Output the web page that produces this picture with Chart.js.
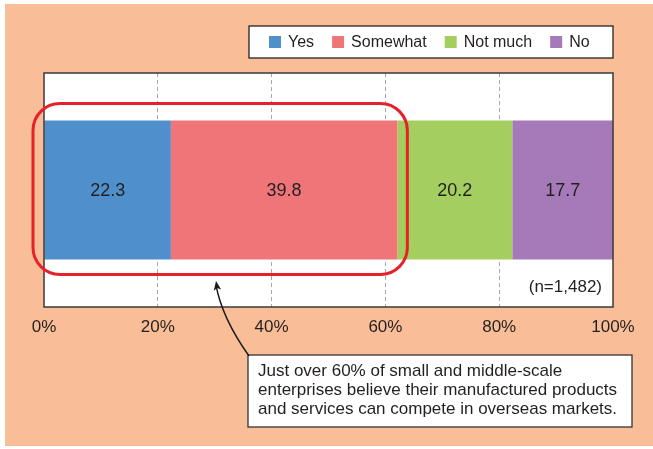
<!DOCTYPE html>
<html>
<head>
<meta charset="utf-8">
<style>
  html, body { margin: 0; padding: 0; background: #fff; }
  #wrap { width: 653px; height: 449px; }
</style>
<script src="https://cdn.jsdelivr.net/npm/chart.js@4/dist/chart.umd.min.js"></script>
</head>
<body>
<div id="wrap"><canvas id="chart" width="653" height="449"></canvas></div>
<script>
(function () {
  "use strict";

  var categories = ["Yes", "Somewhat", "Not much", "No"];
  var shares = [22.3, 39.8, 20.2, 17.7];
  var colors = ["#4F8FCB", "#F07579", "#A4CE5F", "#A67AB8"];
  var tickValues = [0, 20, 40, 60, 80, 100];
  var sampleNote = "(n=1,482)";
  var calloutLines = [
    "Just over 60% of small and middle-scale",
    "enterprises believe their manufactured products",
    "and services can compete in overseas markets."
  ];

  var FONT = "'Liberation Sans', Arial, Helvetica, sans-serif";
  var PEACH = "#F9BE97";
  var INK = "#231F20";

  // one dataset per answer so the bar stacks left to right
  var datasets = categories.map(function (name, i) {
    return {
      label: name,
      data: [shares[i]],
      backgroundColor: colors[i],
      borderWidth: 0,
      barPercentage: 0.594,
      categoryPercentage: 1
    };
  });

  var backdrop = {
    id: "backdrop",
    beforeDraw: function (chart) {
      var ctx = chart.ctx, a = chart.chartArea;
      ctx.save();
      ctx.fillStyle = "#ffffff";
      ctx.fillRect(0, 0, chart.width, chart.height);
      ctx.fillStyle = PEACH;
      ctx.fillRect(5, 4, chart.width - 5, chart.height - 7);
      ctx.fillStyle = "#ffffff";
      ctx.fillRect(a.left, a.top, a.right - a.left, a.bottom - a.top);
      ctx.restore();
    }
  };

  var extras = {
    id: "extras",
    afterDatasetsDraw: function (chart) {
      var ctx = chart.ctx, a = chart.chartArea;
      var xs = chart.scales.x;
      ctx.save();

      // frame round the plot
      ctx.strokeStyle = "#3a3a3a";
      ctx.lineWidth = 1.5;
      ctx.strokeRect(a.left, a.top, a.right - a.left, a.bottom - a.top);

      // value labels centred in each segment
      ctx.fillStyle = INK;
      ctx.font = "18px " + FONT;
      ctx.textAlign = "center";
      ctx.textBaseline = "middle";
      chart.data.datasets.forEach(function (ds, i) {
        var bar = chart.getDatasetMeta(i).data[0];
        ctx.fillText(ds.data[0].toFixed(1), (bar.x + bar.base) / 2, bar.y + 1);
      });

      // sample size note
      ctx.font = "17px " + FONT;
      ctx.textAlign = "right";
      ctx.fillText(sampleNote, a.right - 11, a.bottom - 20);

      // rounded outline around Yes + Somewhat
      var bar0 = chart.getDatasetMeta(0).data[0];
      var top3 = bar0.y - bar0.height / 2;
      var bot3 = bar0.y + bar0.height / 2;
      var x0 = xs.getPixelForValue(0) - 11;
      var x1 = xs.getPixelForValue(shares[0] + shares[1]) + 10;
      var y0 = top3 - 17, y1 = bot3 + 15, r = 27;
      ctx.strokeStyle = "#E62129";
      ctx.lineWidth = 3;
      ctx.beginPath();
      ctx.moveTo(x0 + r, y0);
      ctx.arcTo(x1, y0, x1, y1, r);
      ctx.arcTo(x1, y1, x0, y1, r);
      ctx.arcTo(x0, y1, x0, y0, r);
      ctx.arcTo(x0, y0, x1, y0, r);
      ctx.closePath();
      ctx.stroke();

      ctx.restore();
    },
    afterDraw: function (chart) {
      var ctx = chart.ctx;
      ctx.save();

      // legend box
      var lx = 249, ly = 26, lw = 364, lh = 32;
      ctx.fillStyle = "#ffffff";
      ctx.fillRect(lx, ly, lw, lh);
      ctx.strokeStyle = "#222";
      ctx.lineWidth = 1.3;
      ctx.strokeRect(lx, ly, lw, lh);
      ctx.font = "16px " + FONT;
      ctx.textBaseline = "middle";
      ctx.textAlign = "left";
      var cx = 269, cy = ly + lh / 2;
      chart.data.datasets.forEach(function (ds) {
        ctx.fillStyle = ds.backgroundColor;
        ctx.fillRect(cx, cy - 6, 12, 12);
        ctx.fillStyle = INK;
        ctx.fillText(ds.label, cx + 19, cy + 1);
        cx += 19 + ctx.measureText(ds.label).width + 18;
      });

      // callout box
      var bx = 248, by = 355, bw = 384, bh = 72;
      ctx.fillStyle = "#ffffff";
      ctx.fillRect(bx, by, bw, bh);
      ctx.strokeStyle = "#333";
      ctx.lineWidth = 1.3;
      ctx.strokeRect(bx, by, bw, bh);
      ctx.fillStyle = INK;
      ctx.font = "17px " + FONT;
      ctx.textBaseline = "middle";
      calloutLines.forEach(function (line, i) {
        ctx.fillText(line, bx + 10, by + 16 + i * 19);
      });

      // curved arrow up to the outline
      var tipX = 216, tipY = 281;
      var cpX = 222, cpY = 318;
      ctx.strokeStyle = "#1a1a1a";
      ctx.lineWidth = 1.4;
      ctx.beginPath();
      ctx.moveTo(bx + 1, by + 1);
      ctx.quadraticCurveTo(cpX, cpY, tipX, tipY + 4);
      ctx.stroke();
      var ang = Math.atan2(tipY - cpY, tipX - cpX);
      ctx.fillStyle = "#1a1a1a";
      ctx.beginPath();
      ctx.moveTo(tipX, tipY);
      ctx.lineTo(tipX - 10 * Math.cos(ang - 0.38), tipY - 10 * Math.sin(ang - 0.38));
      ctx.lineTo(tipX - 7 * Math.cos(ang), tipY - 7 * Math.sin(ang));
      ctx.lineTo(tipX - 10 * Math.cos(ang + 0.38), tipY - 10 * Math.sin(ang + 0.38));
      ctx.closePath();
      ctx.fill();

      ctx.restore();
    }
  };

  new Chart(document.getElementById("chart").getContext("2d"), {
    type: "bar",
    data: { labels: [""], datasets: datasets },
    options: {
      indexAxis: "y",
      responsive: false,
      animation: false,
      layout: { padding: { left: 44, right: 40, top: 73, bottom: 112 } },
      plugins: {
        legend: { display: false },
        tooltip: { enabled: false }
      },
      scales: {
        x: {
          stacked: true,
          min: 0,
          max: 100,
          afterBuildTicks: function (scale) {
            scale.ticks = tickValues.map(function (v) { return { value: v }; });
          },
          afterFit: function (scale) { scale.height = 30; },
          grid: {
            drawTicks: false,
            lineWidth: 1,
            color: function (c) {
              var v = c.tick && c.tick.value;
              return v === 0 || v === 100 ? "rgba(0,0,0,0)" : "#a8a8a8";
            }
          },
          border: { display: false, dash: [4, 3] },
          ticks: {
            padding: 10,
            color: INK,
            font: { family: FONT, size: 17 },
            callback: function (v) { return v + "%"; }
          }
        },
        y: {
          stacked: true,
          display: false
        }
      }
    },
    plugins: [backdrop, extras]
  });
})();
</script>
</body>
</html>
